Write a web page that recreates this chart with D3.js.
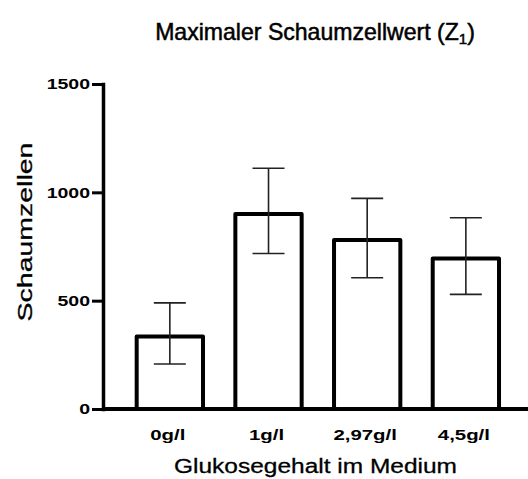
<!DOCTYPE html>
<html>
<head>
<meta charset="utf-8">
<script src="https://cdn.jsdelivr.net/npm/d3@7"></script>
<style>
	body { margin: 0; background: #fff; }
	svg { display: block; }
	text { font-family: "Liberation Sans", Arial, sans-serif; fill: #000; }
</style>
</head>
<body>
<svg id="chart"></svg>
<script>
// data
const groups = ["0g/l", "1g/l", "2,97g/l", "4,5g/l"];
const means = [335, 900, 780, 695];
const errUpper = [490, 1111, 972, 883];
const errLower = [208, 718, 606, 529];
const yTicks = [0, 500, 1000, 1500];

const canvas = {"width": 528, "height": 479};

const svg = d3.select("#chart")
	.attr("width", canvas.width)
	.attr("height", canvas.height);

const yScale = d3.scaleLinear()
	.domain([0, 1500])
	.range([409, 84]);

const xScale = d3.scaleBand()
	.domain(groups)
	.range([120.5, 515.2])
	.paddingInner(0.328)
	.paddingOuter(0.164);

// stretch a text element horizontally around its anchor
function stretch(sel, factor, cx, cy) {
	sel.attr("transform", `translate(${cx},${cy}) scale(${factor},1) translate(${-cx},${-cy})`);
}

// bars
svg.selectAll(".bar")
	.data(means)
	.join("rect")
	.attr("class", "bar")
	.attr("x", (d, i) => xScale(groups[i]))
	.attr("y", d => yScale(d))
	.attr("width", xScale.bandwidth())
	.attr("height", d => yScale(0) - yScale(d))
	.attr("fill", "#fff")
	.attr("stroke", "#000")
	.attr("stroke-width", 4)
	.attr("stroke-linejoin", "round");

// error bars
const cap = 16;
const err = svg.append("g").attr("stroke", "#222").attr("stroke-width", 1.6);
groups.forEach((g, i) => {
	let cx = xScale(g) + xScale.bandwidth() / 2;
	err.append("line")
		.attr("x1", cx).attr("x2", cx)
		.attr("y1", yScale(errUpper[i])).attr("y2", yScale(errLower[i]));
	err.append("line")
		.attr("x1", cx - cap).attr("x2", cx + cap)
		.attr("y1", yScale(errUpper[i])).attr("y2", yScale(errUpper[i]));
	err.append("line")
		.attr("x1", cx - cap).attr("x2", cx + cap)
		.attr("y1", yScale(errLower[i])).attr("y2", yScale(errLower[i]));
});

// y axis
const yAxis = svg.append("g")
	.attr("transform", "translate(103,0)")
	.call(d3.axisLeft(yScale).tickValues(yTicks).tickFormat(d3.format("d"))
		.tickSize(11).tickSizeOuter(0).tickPadding(2));
yAxis.select(".domain").attr("stroke-width", 3.5).attr("stroke-linecap", "square");
yAxis.selectAll(".tick line").attr("stroke-width", 3);
yAxis.selectAll(".tick text")
	.attr("font-size", 15)
	.attr("font-weight", "bold")
	.attr("font-family", "Liberation Sans, Arial, sans-serif")
	.each(function() {
		stretch(d3.select(this), 1.3, -13, 0);
	});

// x baseline
svg.append("line")
	.attr("x1", 103).attr("x2", canvas.width)
	.attr("y1", yScale(0)).attr("y2", yScale(0))
	.attr("stroke", "#000")
	.attr("stroke-width", 4);

// x tick labels
svg.selectAll(".xlabel")
	.data(groups)
	.join("text")
	.attr("class", "xlabel")
	.text(d => d)
	.attr("x", d => xScale(d) + xScale.bandwidth() / 2 - 2)
	.attr("y", 440)
	.attr("text-anchor", "middle")
	.attr("font-size", 15)
	.attr("font-weight", "bold")
	.each(function(d) {
		stretch(d3.select(this), 1.36, xScale(d) + xScale.bandwidth() / 2 - 2, 440);
	});

// axis titles
const xTitle = svg.append("text")
	.text("Glukosegehalt im Medium")
	.attr("x", 315.5)
	.attr("y", 473)
	.attr("text-anchor", "middle")
	.attr("font-size", 21)
	.attr("stroke", "#000")
	.attr("stroke-width", 0.3);
stretch(xTitle, 283 / xTitle.node().getComputedTextLength(), 315.5, 473);

const yTitle = svg.append("text")
	.text("Schaumzellen")
	.attr("text-anchor", "middle")
	.attr("font-size", 21)
	.attr("stroke", "#000")
	.attr("stroke-width", 0.3);
let yLen = yTitle.node().getComputedTextLength();
yTitle.attr("transform", `translate(32,232) rotate(-90) scale(${179 / yLen},1)`);

// chart title with subscript
const title = svg.append("text")
	.attr("x", 315)
	.attr("y", 40)
	.attr("text-anchor", "middle")
	.attr("font-size", 23)
	.attr("stroke", "#000")
	.attr("stroke-width", 0.5);
title.append("tspan").text("Maximaler Schaumzellwert (Z");
title.append("tspan").text("1").attr("font-size", 15).attr("dy", 4);
title.append("tspan").text(")").attr("dy", -4);
stretch(title, 320 / title.node().getBBox().width, 315, 40);
</script>
</body>
</html>
